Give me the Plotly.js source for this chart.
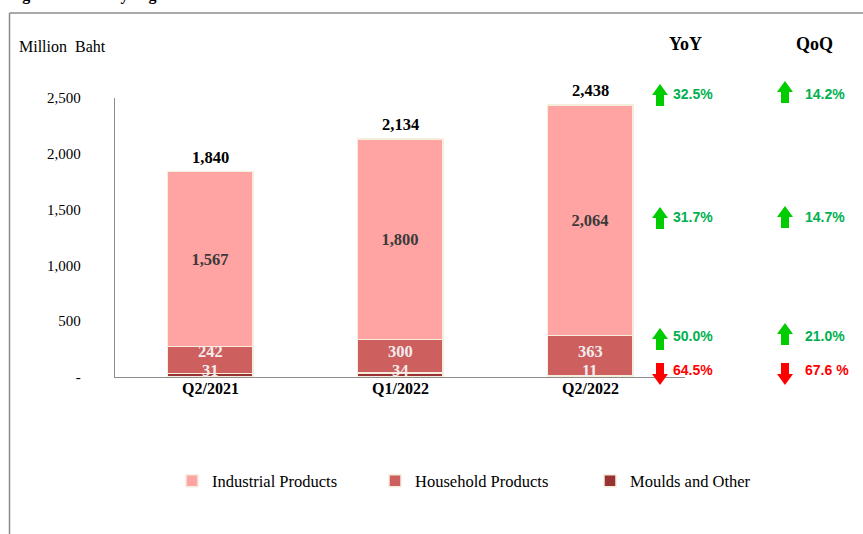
<!DOCTYPE html>
<html>
<head>
<meta charset="utf-8">
<script src="https://cdn.plot.ly/plotly-3.0.1.min.js"></script>
<style>html,body{margin:0;padding:0;background:#fff;overflow:hidden}#chart{width:863px;height:534px}</style>
</head>
<body>
<div id="chart"></div>
<script>
// ---- data ----
const categories = ['Q2/2021', 'Q1/2022', 'Q2/2022'];
const moulds = [31, 34, 11];
const household = [242, 300, 363];
const industrial = [1567, 1800, 2064];
const totals = [1840, 2134, 2438];
const growthRows = ['Total', 'Industrial', 'Household', 'Moulds'];
const yoy = [32.5, 31.7, 50.0, -64.5];
const qoq = [14.2, 14.7, 21.0, -67.6];
const qoqLabels = ['14.2%', '14.7%', '21.0%', '67.6 %'];
const yTicks = [0, 500, 1000, 1500, 2000, 2500];
const yTickText = ['-', '500', '1,000', '1,500', '2,000', '2,500'];

// ---- layout geometry ----
const W = 863, H = 534;
const M = {l: 115, r: 178, t: 98, b: 157};
const PW = W - M.l - M.r, PH = H - M.t - M.b;
const px = x => (x - M.l) / PW;
const py = y => (H - M.b - y) / PH;

const fmt = v => v.toLocaleString('en-US');
const serif = 'Liberation Serif, Times New Roman, serif';
const sans = 'Liberation Sans, Arial, sans-serif';

const cream = '#f6eedc';
const traces = [
  {type: 'bar', name: 'Moulds and Other', x: categories, y: moulds, legend: 'legend3',
   marker: {color: '#993333', line: {color: cream, width: 1.5}}, width: 0.45, hoverinfo: 'skip'},
  {type: 'bar', name: 'Household Products', x: categories, y: household, legend: 'legend2',
   marker: {color: '#cd5f5f', line: {color: cream, width: 1.5}}, width: 0.45, hoverinfo: 'skip'},
  {type: 'bar', name: 'Industrial Products', x: categories, y: industrial, legend: 'legend',
   marker: {color: '#ffa3a3', line: {color: cream, width: 1.5}}, width: 0.45,
   text: industrial.map(fmt), textposition: 'inside', insidetextanchor: 'middle',
   textangle: 0, constraintext: 'none',
   textfont: {family: serif, size: 16.5, color: '#3a3a3a', weight: 'bold'}, hoverinfo: 'skip'}
];

const annotations = [];
categories.forEach((c, i) => {
  annotations.push({x: c, y: totals[i], xref: 'x', yref: 'y', yanchor: 'bottom', yshift: 3,
    text: '<b>' + fmt(totals[i]) + '</b>', showarrow: false,
    font: {family: serif, size: 16.5, color: '#000'}});
  annotations.push({x: c, y: 0, xref: 'x', yref: 'y', yanchor: 'middle', yshift: 26,
    text: '<b>' + fmt(household[i]) + '</b>', showarrow: false,
    font: {family: serif, size: 16.5, color: '#f4ecec'}});
  annotations.push({x: c, y: 0, xref: 'x', yref: 'y', yanchor: 'middle', yshift: 7,
    text: '<b>' + fmt(moulds[i]) + '</b>', showarrow: false,
    font: {family: serif, size: 16.5, color: '#f4ecec'}});
  annotations.push({x: c, y: 0, xref: 'x', yref: 'y', yanchor: 'middle', yshift: -11,
    text: '<b>' + c + '</b>', showarrow: false,
    font: {family: serif, size: 16, color: '#000'}});
});

annotations.push({xref: 'paper', yref: 'paper', x: px(17), y: py(47), xanchor: 'left', yanchor: 'middle',
  text: 'Million  Baht', showarrow: false, font: {family: serif, size: 16, color: '#000'}});
annotations.push({xref: 'paper', yref: 'paper', x: px(685), y: py(44), xanchor: 'center', yanchor: 'middle',
  text: '<b>YoY</b>', showarrow: false, font: {family: serif, size: 18, color: '#000'}});
annotations.push({xref: 'paper', yref: 'paper', x: px(814), y: py(44), xanchor: 'center', yanchor: 'middle',
  text: '<b>QoQ</b>', showarrow: false, font: {family: serif, size: 18, color: '#000'}});
annotations.push({xref: 'paper', yref: 'paper', x: px(6), y: py(-5), xanchor: 'left', yanchor: 'middle',
  text: '<b>Figure 1  Sales by Segment</b>', showarrow: false, font: {family: serif, size: 16, color: '#000'}});

const rowY = [94, 217, 336, 370];
const shapes = [];
const arrowPath = (up) => up
  ? 'M -4 -11 L 4 -11 L 4 0 L 8 0 L 0 11 L -8 0 L -4 0 Z'
  : 'M -4 11 L 4 11 L 4 0 L 8 0 L 0 -11 L -8 0 L -4 0 Z';
function addGrowth(vals, labels, arrowX, textX, dy) {
  vals.forEach((v, i) => {
    const up = v >= 0;
    const col = up ? '#00b050' : '#ff0000';
    annotations.push({xref: 'paper', yref: 'paper', x: px(textX), y: py(rowY[i]), xanchor: 'left', yanchor: 'middle',
      text: '<b>' + labels[i] + '</b>', showarrow: false, font: {family: sans, size: 14, color: col}});
    shapes.push({type: 'path', xref: 'paper', yref: 'paper', xsizemode: 'pixel', ysizemode: 'pixel',
      xanchor: px(arrowX), yanchor: py(rowY[i] + (dy[i] || 0)), path: arrowPath(up),
      fillcolor: up ? '#00cc00' : '#ff0000', line: {width: 0}, layer: 'above'});
  });
}
addGrowth(yoy, yoy.map(v => Math.abs(v).toFixed(1) + '%'), 660, 671, [1, 1, 3, 4]);
addGrowth(qoq, qoqLabels, 785, 803, [-2, 0, -2, 4]);

shapes.push({type: 'line', xref: 'paper', yref: 'paper', x0: px(9.5), x1: px(9.5), y0: py(13), y1: py(540),
  line: {color: '#8c8c8c', width: 1.5}, layer: 'above'});
shapes.push({type: 'line', xref: 'paper', yref: 'paper', x0: px(9.5), x1: px(870), y0: py(13), y1: py(13),
  line: {color: '#8c8c8c', width: 1.5}, layer: 'above'});

const legendBase = (xpix) => ({orientation: 'h', xref: 'container', yref: 'container',
  x: xpix / W, xanchor: 'left', y: 1 - 481 / H, yanchor: 'middle',
  font: {family: serif, size: 16.5, color: '#000'}, itemwidth: 30, bgcolor: 'rgba(0,0,0,0)'});

const layout = {
  width: W, height: H,
  margin: M,
  barmode: 'stack',
  paper_bgcolor: '#fff', plot_bgcolor: '#fff',
  showlegend: true,
  legend: legendBase(172),
  legend2: legendBase(375),
  legend3: legendBase(590),
  xaxis: {range: [-0.5, 2.5], showline: true, linecolor: '#8c8c8c', linewidth: 1.2,
    ticks: '', showgrid: false, zeroline: false, fixedrange: true, showticklabels: false},
  yaxis: {range: [0, 2500], tickvals: yTicks, ticktext: yTickText, showline: true,
    linecolor: '#8c8c8c', linewidth: 1.2, ticks: '', showgrid: false, zeroline: false,
    tickfont: {family: serif, size: 15, color: '#000'}, ticklabelstandoff: 30, fixedrange: true},
  annotations: annotations,
  shapes: shapes,
  font: {family: serif}
};

Plotly.newPlot('chart', traces, layout, {staticPlot: true, displayModeBar: false});
</script>
</body>
</html>
